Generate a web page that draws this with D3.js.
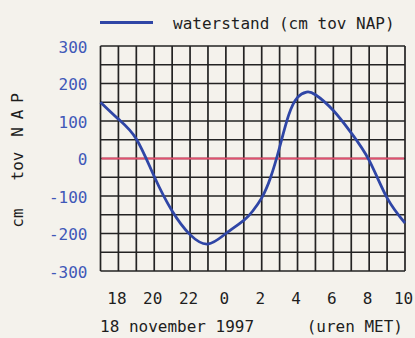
<!DOCTYPE html>
<html>
<head>
<meta charset="utf-8">
<script src="https://cdn.jsdelivr.net/npm/d3@7"></script>
<style>
  html, body { margin: 0; padding: 0; background: #f4f2ec; }
  svg { display: block; }
  text { font-family: "DejaVu Sans Mono", monospace; }
</style>
</head>
<body>
<svg id="chart" width="415" height="338"></svg>
<script>
// Hours since 0:00 on 18 November 1997 (24 = midnight)
const hours = [17, 18, 19, 20, 21, 22, 23, 24, 25, 25.5, 26, 26.5, 27, 27.5, 28, 28.5, 29, 30, 31, 32, 33, 34];
const waterstand = [150, 105, 52, -48, -140, -203, -228, -200, -165, -140, -105, -50, 30, 115, 163, 177, 170, 128, 68, -5, -105, -172];
const yTicks = [300, 200, 100, 0, -100, -200, -300];
const xTicks = [18, 20, 22, 24, 26, 28, 30, 32, 34];
const xTickLabels = ["18", "20", "22", "0", "2", "4", "6", "8", "10"];
const seriesName = "waterstand (cm tov NAP)";
const dateLabel = "18 november 1997";
const unitLabel = "(uren MET)";
const yTitleParts = ["cm", "tov", "N", "A", "P"];

const svg = d3.select("#chart");
const pLeft = 100.5, pRight = 405, pTop = 46, pBottom = 271;

const x = d3.scaleLinear().domain([17, 34]).range([pLeft, pRight]);
const y = d3.scaleLinear().domain([-300, 300]).range([pBottom, pTop]);

const gridColor = "#232323";
const blue = "#2f46a6";

// grid: vertical every hour, horizontal every 50 cm
const g = svg.append("g");
g.selectAll("line.v").data(d3.range(17, 35, 1)).join("line")
  .attr("class", "v")
  .attr("x1", d => x(d)).attr("x2", d => x(d))
  .attr("y1", pTop).attr("y2", pBottom)
  .attr("stroke", gridColor).attr("stroke-width", 1.7);
g.selectAll("line.h").data(d3.range(-300, 301, 50)).join("line")
  .attr("class", "h")
  .attr("y1", d => y(d)).attr("y2", d => y(d))
  .attr("x1", pLeft).attr("x2", pRight)
  .attr("stroke", gridColor).attr("stroke-width", 1.7);

// zero line
svg.append("line")
  .attr("x1", pLeft + 1).attr("x2", pRight - 1)
  .attr("y1", y(0)).attr("y2", y(0))
  .attr("stroke", "#e2506e").attr("stroke-width", 2.2);

// curve
const line = d3.line()
  .x((d, i) => x(hours[i]))
  .y(d => y(d))
  .curve(d3.curveNatural);
svg.append("path")
  .attr("d", line(waterstand))
  .attr("fill", "none")
  .attr("stroke", blue)
  .attr("stroke-width", 2.8)
  .attr("stroke-linejoin", "round");

// y axis labels
const yAxis = d3.axisLeft(y).tickValues(yTicks).tickSize(0).tickPadding(13)
  .tickFormat(d => String(d));
const ya = svg.append("g").attr("transform", `translate(${pLeft},0)`).call(yAxis);
ya.select(".domain").remove();
ya.selectAll("text")
  .attr("fill", "#3f58b8")
  .attr("font-size", 16)
  .attr("font-family", "DejaVu Sans Mono")
  .attr("dy", "0.4em");

// x axis labels
const xAxis = d3.axisBottom(x).tickValues(xTicks).tickSize(0).tickPadding(0)
  .tickFormat((d, i) => xTickLabels[i]);
const xa = svg.append("g").attr("transform", `translate(-2,${pBottom})`).call(xAxis);
xa.select(".domain").remove();
xa.selectAll("text")
  .attr("fill", "#1e1e1e")
  .attr("font-size", 16)
  .attr("font-family", "DejaVu Sans Mono")
  .attr("y", 32.5).attr("dy", 0);

// bottom labels
svg.append("text").attr("x", 100).attr("y", 331.5)
  .attr("font-size", 16).attr("fill", "#1e1e1e").text(dateLabel);
svg.append("text").attr("x", 403).attr("y", 331.5).attr("text-anchor", "end")
  .attr("font-size", 16).attr("fill", "#1e1e1e").text(unitLabel);

// legend
svg.append("line").attr("x1", 100).attr("x2", 153).attr("y1", 22.5).attr("y2", 22.5)
  .attr("stroke", blue).attr("stroke-width", 3);
svg.append("text").attr("x", 173).attr("y", 28.5)
  .attr("font-size", 16).attr("fill", "#1e1e1e").text(seriesName);

// y title
const yTitlePos = [218, 166, 132, 114.5, 98];
const yt = svg.append("text")
  .attr("transform", "rotate(-90)")
  .attr("font-size", 16).attr("fill", "#1e1e1e")
  .attr("text-anchor", "middle");
yt.selectAll("tspan").data(yTitleParts).join("tspan")
  .attr("x", (d, i) => -yTitlePos[i]).attr("y", 23)
  .text(d => d);
</script>
</body>
</html>
